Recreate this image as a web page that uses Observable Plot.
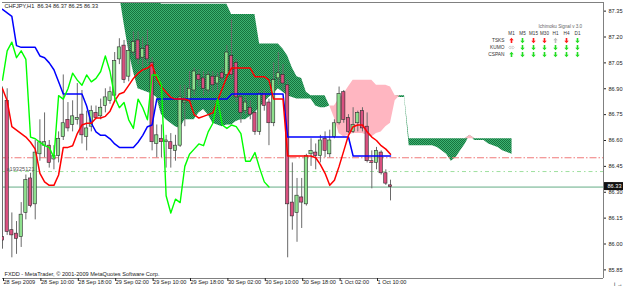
<!DOCTYPE html>
<html><head><meta charset="utf-8">
<script src="https://cdn.jsdelivr.net/npm/d3@7"></script>
<script src="https://cdn.jsdelivr.net/npm/@observablehq/plot@0.6"></script>
<style>
html,body{margin:0;padding:0;background:#fff;}
#wrap{position:relative;width:625px;height:288px;overflow:hidden;}
#panel{position:absolute;left:470px;top:16px;}
</style></head><body>
<div id="wrap"><div id="main"></div><div id="panel"></div></div>
<script>
// ---------- data ----------
const symbolName = "CHFJPY,H1";
const lastOHLC = [86.34, 86.37, 86.25, 86.33];
const copyright = "FXDD - MetaTrader, \u00a9 2001-2009 MetaQuotes Software Corp.";
const objectLabel = "a19325121";

const open = [86.04,86.83,86.08,86.06,86.04,86.18,86.38,86.23,86.52,86.57, 86.57,86.49,86.51,86.62,86.72,86.69,86.72,86.75,86.62,86.68, 86.76,86.74,86.80,86.83,86.86,87.07,87.15,86.97,87.11,87.18, 87.08,87.15,87.05,86.58,86.61,86.59,86.59,86.54,86.57,86.82, 86.83,86.89,86.98,86.96,86.89,86.97,86.93,86.99,86.98,87.09, 87.05,86.85,86.77,86.79,86.76,86.65,86.87,86.82,86.70,86.96, 86.98,86.92,86.24,86.18,86.27,86.23,86.52,86.53,86.51,86.61, 86.52,86.62,86.70,86.88,86.73,86.65,86.70,86.77,86.68,86.48, 86.47,86.53,86.41,86.34];
const high = [86.91,86.90,86.18,86.13,86.24,86.40,86.41,86.60,86.72,86.76, 86.60,86.57,86.65,86.98,86.82,86.83,86.93,86.89,86.77,86.80, 86.80,86.84,86.90,86.91,87.11,87.19,87.18,87.18,87.23,87.23, 87.20,87.24,87.08,86.69,86.69,86.63,86.64,86.63,86.92,86.92, 87.00,87.02,87.01,87.00,87.00,87.00,86.99,87.02,87.15,87.30, 87.07,86.87,86.85,86.83,86.77,86.89,86.89,86.84,87.05,87.11, 87.04,86.95,86.47,86.38,86.38,86.52,86.61,86.58,86.63,86.65, 86.66,86.72,86.91,86.89,86.75,86.79,86.77,86.79,86.76,86.54, 86.56,86.54,86.43,86.37];
const low = [85.97,86.05,85.92,85.94,85.98,86.14,86.21,86.14,86.48,86.50, 86.44,86.43,86.47,86.60,86.65,86.65,86.69,86.58,86.54,86.65, 86.72,86.72,86.76,86.81,86.82,87.04,86.93,86.94,87.09,87.04, 87.02,87.04,86.54,86.50,86.50,86.44,86.44,86.48,86.56,86.68, 86.82,86.86,86.91,86.86,86.87,86.88,86.89,86.94,86.95,86.95, 86.82,86.70,86.75,86.72,86.63,86.63,86.77,86.57,86.68,86.92, 86.89,85.92,86.08,86.01,86.09,86.22,86.45,86.43,86.47,86.50, 86.50,86.61,86.69,86.70,86.64,86.64,86.65,86.65,86.47,86.32, 86.43,86.40,86.34,86.25];
const close = [86.02,86.07,86.05,86.03,86.17,86.37,86.22,86.53,86.59,86.59, 86.47,86.51,86.61,86.70,86.67,86.74,86.73,86.63,86.67,86.77, 86.73,86.79,86.85,86.88,87.06,87.14,86.95,87.12,87.17,87.07, 87.13,87.07,86.59,86.63,86.59,86.60,86.55,86.57,86.85,86.83, 86.90,87.00,86.95,86.90,86.98,86.92,86.97,86.96,87.11,86.98, 86.85,86.76,86.82,86.75,86.65,86.87,86.80,86.70,86.95,86.99, 86.93,86.23,86.16,86.28,86.24,86.51,86.54,86.51,86.60,86.54, 86.60,86.70,86.87,86.72,86.65,86.69,86.76,86.67,86.48,86.47, 86.54,86.41,86.35,86.33];

const tenkan = [86.90,86.83,86.68,86.66,86.64,86.62,86.59,86.55,86.41,86.36, 86.34,86.34,86.40,86.56,86.56,86.57,86.64,86.69,86.70,86.70, 86.73,86.73,86.74,86.77,86.83,86.87,86.88,86.92,86.96,86.99, 87.01,87.02,87.04,86.96,86.91,86.88,86.85,86.84,86.84,86.84, 86.83,86.75,86.73,86.74,86.75,86.76,86.83,86.90,86.97,87.02, 87.02,87.02,87.02,87.02,86.97,86.97,86.97,86.95,86.84,86.84, 86.84,86.51,86.51,86.51,86.51,86.51,86.51,86.50,86.46,86.41, 86.34,86.37,86.45,86.54,86.63,86.68,86.69,86.69,86.65,86.62, 86.60,86.57,86.55,86.52];
const kijun = [87.36,87.34,87.32,87.15,87.14,87.14,87.14,87.14,87.09,87.08, 87.05,87.01,86.94,86.87,86.87,86.87,86.87,86.87,86.80,86.70, 86.65,86.63,86.63,86.61,86.58,86.56,86.56,86.56,86.56,86.59, 86.63,86.68,86.69,86.84,86.84,86.84,86.84,86.84,86.84,86.84, 86.84,86.84,86.84,86.84,86.84,86.84,86.84,86.84,86.84,86.87, 86.87,86.87,86.87,86.87,86.87,86.87,86.87,86.87,86.87,86.87, 86.87,86.62,86.62,86.62,86.62,86.62,86.62,86.62,86.62,86.62, 86.62,86.62,86.62,86.62,86.62,86.51,86.51,86.51,86.51,86.51, 86.51,86.51,86.51,86.51];
const chikou = [86.95,87.12,87.17,87.08,87.12,87.07,86.62,86.61,86.59,86.57, 86.56,86.50,86.86,86.84,86.90,86.99,86.95,86.92,86.98,86.94, 86.96,87.00,87.09,87.00,86.85,86.79,86.82,86.72,86.67,86.84, 86.79,86.72,86.98,86.98,86.92,86.28,86.18,86.26,86.24,86.45, 86.52,86.55,86.58,86.57,86.65,86.70,86.84,86.69,86.67,86.69, 86.68,86.64,86.48,86.48,86.53,86.44,86.36,86.33];

// Senkou spans (already shifted forward), first value belongs to bar 25
const KUMO_START = 25;
const spanA = [87.45,87.28,87.12,87.00,86.90,86.89,86.88,86.87,86.85,86.75, 86.72,86.70,86.68,86.67,86.72,86.72,86.72,86.76,86.78,86.75, 86.70,86.69,86.68,86.69,86.69,86.71,86.72,86.72,86.74,86.76, 86.79,86.82,86.85,86.87,86.90,86.88,86.86,86.85,86.84,86.84, 86.84,86.84,86.80,86.79,86.79,86.80,86.80,86.84,86.87,86.91, 86.95,86.95,86.95,86.95,86.95,86.92,86.92,86.92,86.91,86.86, 86.85,86.85,86.57,86.57,86.57,86.57,86.57,86.57,86.56,86.54, 86.52,86.48,86.50,86.54,86.58,86.63,86.60,86.60,86.60,86.58, 86.57,86.56,86.54,86.53,86.52];
const spanB = [87.45,87.45,87.45,87.45,87.45,87.45,87.45,87.45,87.45,87.39, 87.39,87.39,87.39,87.39,87.39,87.39,87.39,87.39,87.39,87.39, 87.39,87.39,87.39,87.39,87.33,87.33,87.33,87.33,87.33,87.33, 87.16,87.16,87.16,87.16,87.16,87.13,87.09,87.02,86.97,86.96, 86.88,86.86,86.86,86.86,86.86,86.80,86.73,86.64,86.62,86.63, 86.64,86.64,86.64,86.63,86.62,86.64,86.65,86.68,86.70,86.83, 86.86,86.86,86.61,86.61,86.61,86.61,86.61,86.61,86.61,86.61, 86.61,86.61,86.61,86.61,86.61,86.61,86.61,86.61,86.61,86.61, 86.61,86.61,86.61,86.61,86.61];

const xTickBars = [0,8,16,24,32,40,48,56,64,72,80];
const xTickLabels = ["28 Sep 2009","28 Sep 10:00","28 Sep 18:00","29 Sep 02:00","29 Sep 10:00","29 Sep 18:00","30 Sep 02:00","30 Sep 10:00","30 Sep 18:00","1 Oct 02:00","1 Oct 10:00"];
const yTicks = [85.85,86.00,86.15,86.30,86.45,86.60,86.75,86.90,87.05,87.20,87.35];

const redLevel = 86.50;
const greenLevel = 86.42;
const bidLevel = 86.33;

const X_MAX = 128.56;
const Y_MIN = 85.80, Y_MAX = 87.40;

// signal panel
const panelTitle = "Ichimoku Signal v 3.0";
const timeframes = ["M1","M5","M15","M30","H1","H4","D1"];
const signalRows = ["TSKS","KUMO","CSPAN"];
const tsksDir  = ["up","down","down","down","up","down","down"];
const tsksTone = ["sell","buy","sell","sell","none","sell","buy"];
const kumoDir  = ["flat","down","down","down","down","down","down"];
const kumoTone = ["none","buy","buy","buy","buy","buy","buy"];
const cspanDir  = ["up","down","down","down","down","down","down"];
const cspanTone = ["buy","buy","buy","buy","buy","buy","buy"];

// ---------- build ----------
const candles = open.map((o, i) => ({i, o, h: high[i], l: low[i], c: close[i]}));
const lineOf = arr => arr.map((v, i) => ({i, v}));
const kumo = spanA.map((a, k) => ({i: KUMO_START + k, a, b: spanB[k]}));
const halfW = 0.35;

const chart = Plot.plot({
  width: 625, height: 288,
  marginLeft: 2, marginRight: 22, marginTop: 2, marginBottom: 10,
  style: {fontFamily: "'Liberation Sans', Arial, sans-serif", fontSize: "5.6px", color: "#222", background: "#fff", overflow: "visible"},
  x: {domain: [0, X_MAX]},
  y: {domain: [Y_MIN, Y_MAX]},
  marks: [
    Plot.areaY(kumo, {x: "i", y1: "a", y2: d => Math.max(d.a, d.b), fill: "url(#kumoGreen)", clip: true}),
    Plot.areaY(kumo, {x: "i", y1: "b", y2: d => Math.max(d.a, d.b), fill: "#ffb6c1", clip: true}),
    Plot.ruleY([redLevel], {stroke: "#f07a7a", strokeDasharray: "7,2,1.5,2"}),
    Plot.ruleY([greenLevel], {stroke: "#9ee09e", strokeDasharray: "4,3,1.5,3"}),
    Plot.ruleY([bidLevel], {stroke: "#63ad85"}),
    Plot.ruleX(candles, {x: "i", y1: "l", y2: "h", stroke: "#6a6a6a", clip: true}),
    Plot.rect(candles, {filter: d => d.c >= d.o, x1: d => d.i - halfW, x2: d => d.i + halfW, y1: "o", y2: "c", fill: "#8ee08e", stroke: "#2a2a2a", strokeWidth: 0.6, clip: true}),
    Plot.rect(candles, {filter: d => d.c < d.o, x1: d => d.i - halfW, x2: d => d.i + halfW, y1: "o", y2: "c", fill: "#d9507f", stroke: "#2a2a2a", strokeWidth: 0.6, clip: true}),
    Plot.line(lineOf(kijun), {x: "i", y: "v", stroke: "#0000ff", strokeWidth: 1.5, clip: true}),
    Plot.line(lineOf(tenkan), {x: "i", y: "v", stroke: "#ff0000", strokeWidth: 1.5, clip: true}),
    Plot.line(lineOf(chikou), {x: "i", y: "v", stroke: "#00ff00", strokeWidth: 1.4, clip: true}),
    Plot.ruleY([Y_MAX], {stroke: "#808080"}),
    Plot.ruleY([Y_MIN], {stroke: "#808080"}),
    Plot.ruleX([X_MAX], {stroke: "#808080"}),
    Plot.axisY({anchor: "right", ticks: yTicks, tickFormat: d => d.toFixed(2), tickSize: 2, tickPadding: 3, color: "#222"}),
    Plot.axisX({anchor: "bottom", ticks: xTickBars, tickFormat: d => xTickLabels[xTickBars.indexOf(d)], tickSize: 3, tickPadding: -1, textAnchor: "start", dx: 1, color: "#222"}),
    Plot.text([`${symbolName}\u00a0\u00a0${lastOHLC.map(v => v.toFixed(2)).join(" ")}`], {frameAnchor: "top-left", dx: 2, dy: 2, lineAnchor: "top", textAnchor: "start", fill: "#222"}),
    Plot.text([copyright], {frameAnchor: "bottom-left", dx: 2, dy: -3, lineAnchor: "bottom", textAnchor: "start", fill: "#222"}),
    Plot.text([objectLabel], {frameAnchor: "left", y: () => greenLevel, dx: 4, dy: -1, lineAnchor: "bottom", textAnchor: "start", fill: "#555"})
  ]
});

// dither pattern for the kumo
const defs = d3.select(chart).insert("defs", ":first-child");
const pat = defs.append("pattern").attr("id", "kumoGreen").attr("width", 2).attr("height", 2).attr("patternUnits", "userSpaceOnUse");
pat.append("rect").attr("width", 2).attr("height", 2).attr("fill", "#3cb371");
pat.append("rect").attr("width", 1).attr("height", 1).attr("fill", "#17733e");
pat.append("rect").attr("x", 1).attr("y", 1).attr("width", 1).attr("height", 1).attr("fill", "#17733e");

// current price label on the right axis (placed with the chart's y scale)
const yBid = chart.scale("y").apply(bidLevel);
const g = d3.select(chart).append("g");
g.append("rect").attr("x", 604).attr("y", yBid - 4.5).attr("width", 19).attr("height", 8).attr("fill", "#111");
g.append("text").attr("x", 621.5).attr("y", yBid + 1.8).attr("text-anchor", "end").attr("fill", "#fff")
  .style("font-size", "5.6px").style("font-family", "'Liberation Sans', Arial, sans-serif").text(bidLevel.toFixed(2));

document.getElementById("main").appendChild(chart);

// ---------- signal panel ----------
const toneColor = {sell: "#ff1a1a", buy: "#22dd22", none: "#bdbdbd"};
const cells = [];
[[tsksDir, tsksTone], [kumoDir, kumoTone], [cspanDir, cspanTone]].forEach(([dirs, tones], r) => {
  timeframes.forEach((tf, c) => cells.push({row: signalRows[r], tf, dir: dirs[c], tone: tones[c]}));
});
const arrowUp = {draw(ctx) { ctx.moveTo(0,-2.7); ctx.lineTo(2.2,-0.3); ctx.lineTo(0.8,-0.3); ctx.lineTo(0.8,2.5); ctx.lineTo(-0.8,2.5); ctx.lineTo(-0.8,-0.3); ctx.lineTo(-2.2,-0.3); ctx.closePath(); }};
const arrowDown = {draw(ctx) { ctx.moveTo(0,2.7); ctx.lineTo(2.2,0.3); ctx.lineTo(0.8,0.3); ctx.lineTo(0.8,-2.5); ctx.lineTo(-0.8,-2.5); ctx.lineTo(-0.8,0.3); ctx.lineTo(-2.2,0.3); ctx.closePath(); }};
const arrowFlat = {draw(ctx) { ctx.moveTo(-2.8,0); ctx.lineTo(-1.3,-1.6); ctx.lineTo(-1.3,-0.6); ctx.lineTo(1.3,-0.6); ctx.lineTo(1.3,-1.6); ctx.lineTo(2.8,0); ctx.lineTo(1.3,1.6); ctx.lineTo(1.3,0.6); ctx.lineTo(-1.3,0.6); ctx.lineTo(-1.3,1.6); ctx.closePath(); }};

const panel = Plot.plot({
  width: 120, height: 46,
  marginLeft: 38, marginRight: 11, marginTop: 8, marginBottom: 7,
  style: {fontFamily: "'Liberation Sans', Arial, sans-serif", fontSize: "4.8px", color: "#333", background: "transparent", overflow: "visible"},
  x: {type: "point", domain: timeframes, padding: 0, axis: null},
  y: {type: "point", domain: ["title", "hdr", ...signalRows], padding: 0, axis: null},
  color: {type: "identity"},
  marks: [
    Plot.text([panelTitle], {x: () => "M30", y: () => "title", dx: -6, textAnchor: "start", fill: "#666", fontSize: 4.6}),
    Plot.text(timeframes, {x: d => d, y: () => "hdr", text: d => d, fill: "#333", fontSize: 4.6}),
    Plot.text(signalRows, {x: () => "M1", y: d => d, text: d => d, textAnchor: "end", dx: -7, fill: "#333"}),
    Plot.dot(cells, {filter: d => d.dir === "up", x: "tf", y: "row", symbol: arrowUp, fill: d => toneColor[d.tone], stroke: "none", r: 3}),
    Plot.dot(cells, {filter: d => d.dir === "down", x: "tf", y: "row", symbol: arrowDown, fill: d => toneColor[d.tone], stroke: "none", r: 3}),
    Plot.dot(cells, {filter: d => d.dir === "flat", x: "tf", y: "row", symbol: arrowFlat, fill: "none", stroke: d => toneColor[d.tone], strokeWidth: 0.6, r: 3})
  ]
});
document.getElementById("panel").appendChild(panel);
</script>
</body></html>
